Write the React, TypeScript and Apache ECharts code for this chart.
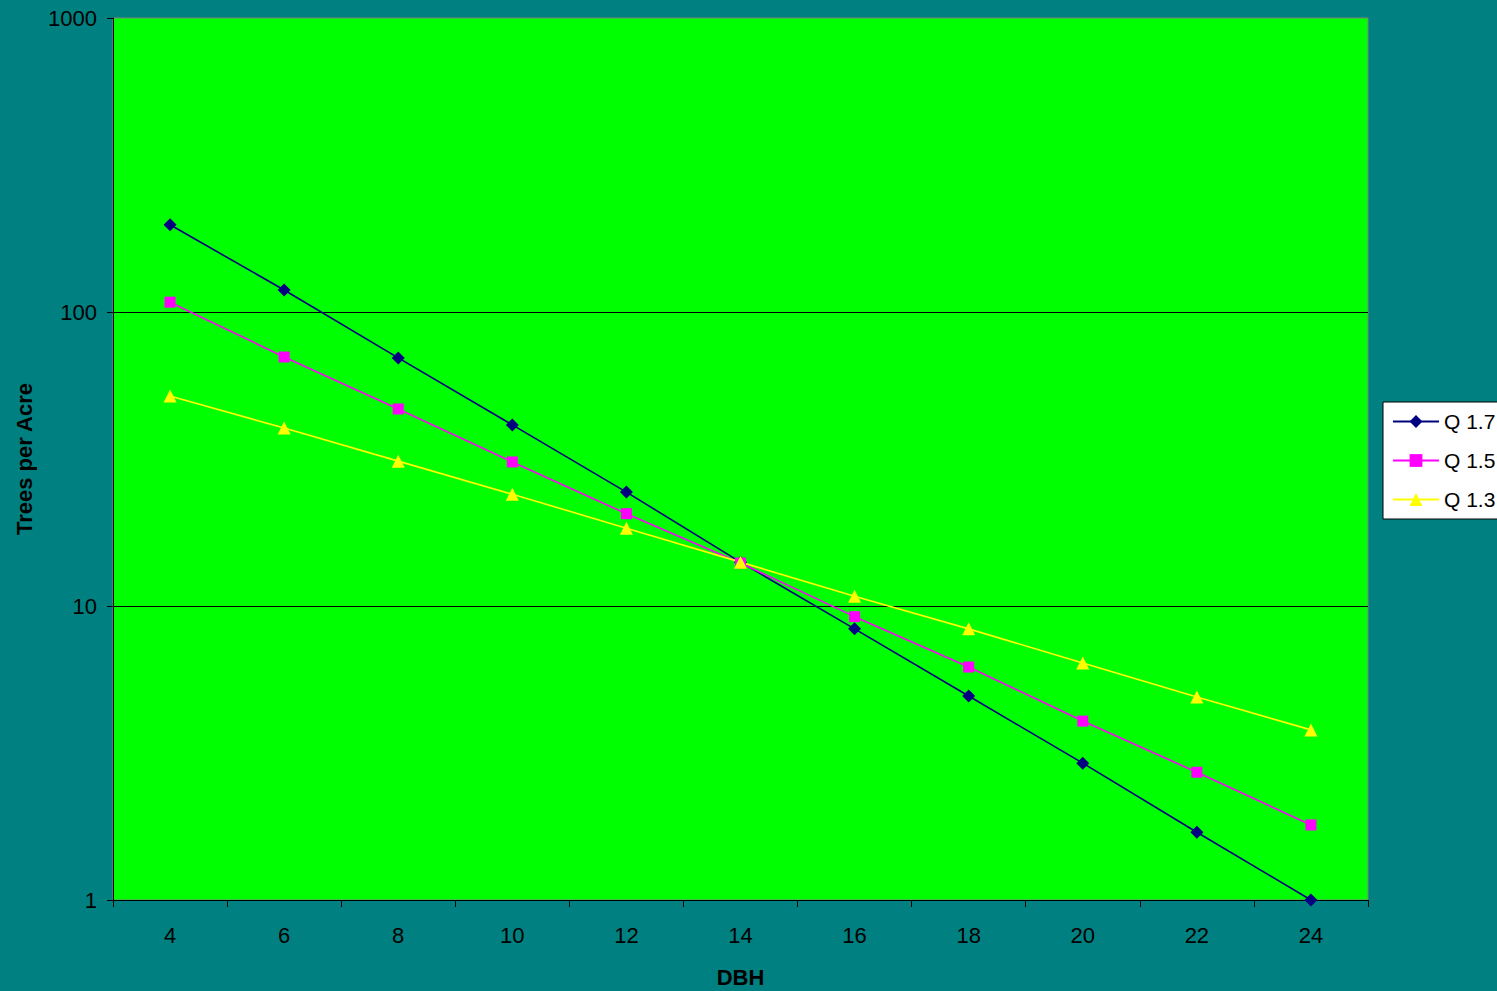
import React, { useEffect, useRef } from "react";
import * as echarts from "echarts";

const categories = ["4", "6", "8", "10", "12", "14", "16", "18", "20", "22", "24"];
const q17 = [198, 118.8, 69.8, 41.3, 24.4, 14.1, 8.36, 4.94, 2.92, 1.7, 1.0];
const q15 = [108, 70.3, 46.8, 30.9, 20.6, 14.0, 9.2, 6.2, 4.06, 2.72, 1.8];
const q13 = [51.8, 40.3, 31.1, 24.0, 18.4, 14.1, 10.8, 8.36, 6.4, 4.9, 3.79];
const seriesNames = ["Q 1.7", "Q 1.5", "Q 1.3"];

const FONT = "'Liberation Sans', Arial, sans-serif";

export default function App() {
  const ref = useRef<HTMLDivElement>(null);
  useEffect(() => {
    document.body.style.margin = "0";
    const chart = echarts.init(ref.current!, null, { renderer: "svg" });
    const mk = (name: string, data: number[], color: string, symbol: string, size: number) => ({
      name,
      type: "line",
      data,
      symbol,
      symbolSize: size,
      showAllSymbol: true,
      lineStyle: { color, width: 1.6 },
      itemStyle: { color },
    });
    chart.setOption({
      animation: false,
      backgroundColor: "#008080",
      textStyle: { fontFamily: FONT },
      grid: {
        left: 113,
        top: 18,
        right: 129,
        bottom: 91,
        outerBoundsMode: "none",
        containLabel: false,
        show: true,
        backgroundColor: "#00FF00",
        borderColor: "#808080",
        borderWidth: 1,
      },
      legend: {
        orient: "vertical",
        left: 1383,
        top: 402,
        data: seriesNames,
        backgroundColor: "#FFFFFF",
        borderColor: "#000000",
        borderWidth: 1,
        padding: [9, 60, 9, 9],
        itemWidth: 46,
        itemHeight: 16,
        itemGap: 18,
        textStyle: { fontSize: 21, color: "#000", fontFamily: FONT },
      },
      xAxis: {
        type: "category",
        data: categories,
        boundaryGap: true,
        name: "DBH",
        nameLocation: "middle",
        nameGap: 66,
        nameTextStyle: { fontSize: 22, fontWeight: "bold", color: "#000", fontFamily: FONT },
        axisLine: { lineStyle: { color: "#000", width: 1 } },
        axisTick: { show: true, length: 7, alignWithLabel: false, lineStyle: { color: "#000" } },
        axisLabel: { fontSize: 22, color: "#000", margin: 24, fontFamily: FONT },
        splitLine: { show: false },
      },
      yAxis: {
        type: "log",
        logBase: 10,
        min: 1,
        max: 1000,
        name: "Trees per Acre",
        nameLocation: "middle",
        nameGap: 78,
        nameRotate: 90,
        nameTextStyle: { fontSize: 22, fontWeight: "bold", color: "#000", fontFamily: FONT },
        axisLine: { show: true, lineStyle: { color: "#000", width: 1 } },
        axisTick: { show: true, length: 6, lineStyle: { color: "#000" } },
        axisLabel: {
          fontSize: 22,
          color: "#000",
          margin: 16,
          fontFamily: FONT,
          formatter: (v: number) => String(Math.round(v)),
        },
        splitLine: {
          show: true,
          showMaxLine: false,
          lineStyle: { color: "#000", width: 1 },
        },
      },
      series: [
        mk(seriesNames[0], q17, "#000080", "diamond", 13),
        mk(seriesNames[1], q15, "#FF00FF", "rect", 11),
        mk(seriesNames[2], q13, "#FFFF00", "triangle", 13),
      ],
    });
    return () => chart.dispose();
  }, []);
  return (
    <div
      ref={ref}
      style={{ position: "fixed", left: 0, top: 0, width: 1497, height: 991 }}
    />
  );
}
